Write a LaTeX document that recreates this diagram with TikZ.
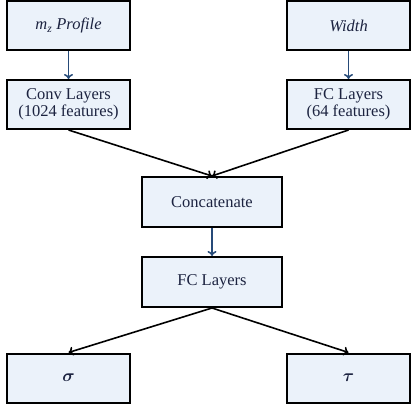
\documentclass[tikz,border=0pt]{standalone}
\usepackage{amsmath, bm}
\usepackage{fontspec}
\setmainfont{Liberation Serif}
\usepackage{tikz}
\usetikzlibrary{arrows.meta}
\definecolor{boxfill}{HTML}{EBF2FA}
\definecolor{boxtext}{HTML}{1C2340}
\definecolor{linkblue}{HTML}{264A78}
\tikzstyle{block} = [rectangle, minimum width=123pt, minimum height=49pt,
    text centered, align=center, draw=black, line width=2pt, fill=boxfill,
    text=boxtext, font=\fontsize{16.5}{17.5}\selectfont, inner sep=0pt]
\tikzstyle{wideblock} = [block, minimum width=140pt, minimum height=50pt]
\tikzstyle{arrow} = [line width=1.6pt, -{To[length=5pt, width=9pt]}]
\tikzstyle{bluearrow} = [arrow, draw=linkblue]

\begin{document}
\begin{tikzpicture}[node distance=80pt]
            \useasboundingbox (-68.5pt,25.5pt) rectangle (350.5pt,-385.5pt);
            % Inputs
            \node[block] (profile) {$\textit{m}_{\textit{z}}$ \textit{Profile}};
            \node[block, right of=profile, xshift=200pt] (width) {\textit{Width}};
            % Feature branches
            \node[block, below of=profile, yshift=1pt] (conv) {Conv Layers\\(1024 features)};
            \node[block, below of=width, yshift=1pt] (fcsmall) {FC Layers\\(64 features)};
            % Merge
            \node[wideblock, below of=conv, xshift=143.5pt, yshift=-17.5pt] (concat) {Concatenate};
            \node[wideblock, below of=concat] (fc) {FC Layers};
            % Outputs
            \node[block, below of=fc, xshift=-143.5pt, yshift=-16pt] (sigma) {$\bm{\sigma}$};
            \node[block, below of=fc, xshift=136.5pt, yshift=-16pt] (tau) {$\bm{\tau}$};
            % Arrows
            \draw[bluearrow] (profile) -- (conv);
            \draw[bluearrow] (width) -- (fcsmall);
            \draw[arrow] (conv.south) -- (concat.north);
            \draw[arrow] (fcsmall.south) -- (concat.north);
            \draw[bluearrow] (concat) -- (fc);
            \draw[arrow] (fc.south) -- (sigma.north);
            \draw[arrow] (fc.south) -- (tau.north);
        \end{tikzpicture}
\end{document}
